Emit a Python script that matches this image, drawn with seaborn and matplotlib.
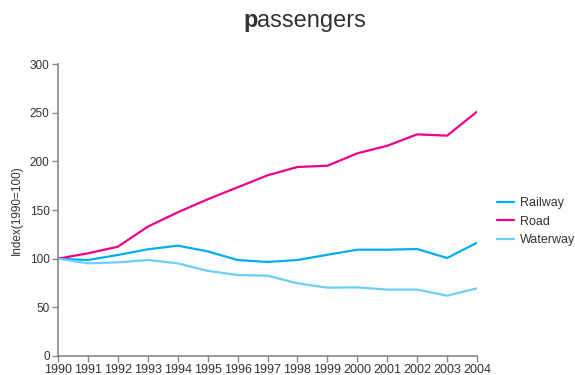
import matplotlib
matplotlib.use("Agg")
import matplotlib.pyplot as plt
import seaborn as sns
import pandas as pd

years = list(range(1990, 2005))
railway = [100, 98.6, 103.8, 109.6, 113.4, 107.5, 98.6, 96.6, 98.6, 104.0, 109.2, 109.2, 109.9, 100.7, 116.4]
road = [100, 105.5, 112.3, 132.9, 147.6, 161.0, 173.3, 185.6, 194.2, 195.5, 208.2, 216.0, 227.7, 226.4, 251.0]
waterway = [100, 95.2, 96.2, 98.6, 95.2, 87.5, 83.2, 82.5, 74.7, 70.2, 70.5, 68.2, 68.2, 62.0, 69.5]
series_names = ["Railway", "Road", "Waterway"]
colors = ["#00AEEF", "#EC008C", "#6DCFF6"]
y_ticks = [0, 50, 100, 150, 200, 250, 300]

df = pd.DataFrame({
    "year": years * 3,
    "value": railway + road + waterway,
    "mode": [series_names[0]] * len(years) + [series_names[1]] * len(years) + [series_names[2]] * len(years),
})

sns.set_theme(style="white")
plt.rcParams["font.family"] = ["Liberation Sans", "DejaVu Sans"]
text_color = "#333333"
axis_color = "#888888"

fig = plt.figure(figsize=(5.75, 3.75), dpi=100)
ax = fig.add_axes([0.1009, 0.0507, 0.7287, 0.7786])

sns.lineplot(data=df, x="year", y="value", hue="mode", hue_order=series_names,
             palette=colors, linewidth=1.6, ax=ax, legend=True)

ax.set_xlim(1990, 2004)
ax.set_ylim(0, 300)
ax.set_xticks(years)
ax.set_xticklabels([str(y) for y in years])
ax.set_yticks(y_ticks)
ax.tick_params(axis="both", direction="out", length=4, width=1, color=axis_color,
               labelcolor=text_color, bottom=True, left=True)
ax.tick_params(axis="x", labelsize=9, pad=1.5)
ax.tick_params(axis="y", labelsize=8.5, pad=2)
for side in ["top", "right"]:
    ax.spines[side].set_visible(False)
for side in ["left", "bottom"]:
    ax.spines[side].set_color(axis_color)
    ax.spines[side].set_linewidth(1.2)
ax.set_xlabel("")
ax.set_ylabel("Index(1990=100)", fontsize=8.5, color=text_color, labelpad=5)

leg = ax.legend(loc="center left", bbox_to_anchor=(1.02, 0.46), frameon=False,
                fontsize=9, handlelength=1.4, handletextpad=0.5, labelspacing=0.5)
for t in leg.get_texts():
    t.set_color(text_color)

fig.text(0.4240, 0.928, "p", fontsize=17, fontweight="bold", color=text_color, ha="left", va="baseline")
fig.text(0.4465, 0.928, "assengers", fontsize=17, color=text_color, ha="left", va="baseline")

fig.savefig("out.png", dpi=100)
